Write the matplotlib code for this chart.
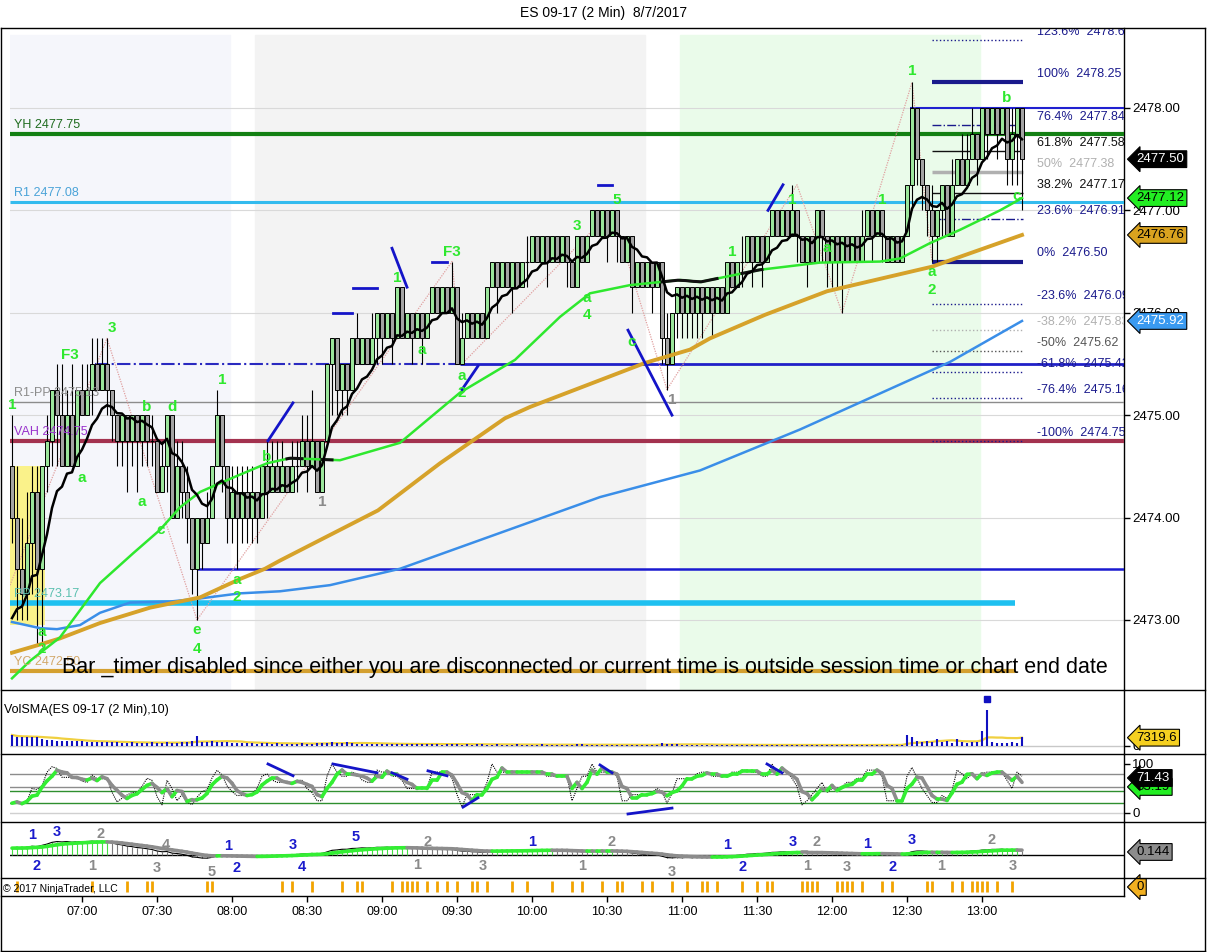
import numpy as np
import pandas as pd
import matplotlib
matplotlib.use("Agg")
import matplotlib.pyplot as plt
import matplotlib.transforms as mtransforms
from matplotlib.collections import LineCollection
from matplotlib.patches import Rectangle

plt.rcParams['font.family'] = ['Liberation Sans', 'DejaVu Sans']

W, H = 1208, 952

# ES 09-17, 2 min bars from 06:32 to 13:16
first_open = 2474.50
closes = [
    2474.00, 2473.50, 2473.25, 2473.75, 2474.25, 2473.50, 2474.50, 2474.75, 2475.25, 2475.00,
    2474.50, 2475.00, 2474.50, 2475.25, 2475.00, 2475.25, 2475.50, 2475.25, 2475.50, 2475.25,
    2475.00, 2474.75, 2475.00, 2474.75, 2475.00, 2474.75, 2475.00, 2474.75, 2474.75, 2474.25,
    2474.50, 2475.00, 2474.00, 2474.50, 2474.25, 2474.00, 2473.50, 2474.00, 2473.75, 2474.00,
    2474.50, 2475.00, 2474.50, 2474.00, 2474.25, 2474.00, 2474.25, 2474.00, 2474.25, 2474.00,
    2474.50, 2474.25, 2474.50, 2474.25, 2474.50, 2474.25, 2474.50, 2474.50, 2474.75, 2474.50,
    2474.75, 2474.25, 2474.75, 2475.50, 2475.75, 2475.25, 2475.50, 2475.25, 2475.75, 2475.50,
    2475.75, 2475.50, 2475.75, 2476.00, 2475.75, 2476.00, 2475.75, 2476.25, 2475.75, 2476.00,
    2475.75, 2476.00, 2475.75, 2476.00, 2476.25, 2476.00, 2476.25, 2476.00, 2476.25, 2475.50,
    2475.75, 2476.00, 2475.75, 2476.00, 2475.75, 2476.25, 2476.50, 2476.25, 2476.50, 2476.25,
    2476.50, 2476.25, 2476.50, 2476.50, 2476.75, 2476.50, 2476.75, 2476.50, 2476.75, 2476.50,
    2476.75, 2476.50, 2476.25, 2476.75, 2476.50, 2476.75, 2477.00, 2476.75, 2477.00, 2476.75,
    2477.00, 2476.75, 2476.50, 2476.75, 2476.25, 2476.50, 2476.25, 2476.50, 2476.25, 2476.50,
    2475.75, 2475.50, 2476.00, 2476.25, 2476.00, 2476.25, 2476.00, 2476.25, 2476.00, 2476.25,
    2476.00, 2476.25, 2476.00, 2476.50, 2476.25, 2476.50, 2476.50, 2476.75, 2476.50, 2476.75,
    2476.50, 2476.75, 2477.00, 2476.75, 2477.00, 2476.75, 2477.00, 2476.75, 2476.50, 2476.75,
    2476.50, 2477.00, 2476.75, 2476.50, 2476.75, 2476.50, 2476.75, 2476.50, 2476.75, 2476.50,
    2476.75, 2477.00, 2476.75, 2477.00, 2476.75, 2476.50, 2476.75, 2476.50, 2476.75, 2477.25,
    2478.00, 2477.50, 2477.25, 2477.00, 2476.75, 2477.00, 2477.25, 2476.75, 2477.25, 2477.50,
    2477.25, 2477.50, 2477.75, 2477.50, 2478.00, 2477.75, 2478.00, 2477.75, 2478.00, 2477.50,
    2477.75, 2478.00, 2477.50]
highs = [
    2475.00, 2474.50, 2474.00, 2474.25, 2474.50, 2474.50, 2474.50, 2475.00, 2475.25, 2475.50,
    2475.50, 2475.25, 2475.50, 2475.25, 2475.50, 2475.50, 2475.75, 2475.75, 2475.75, 2475.75,
    2475.25, 2475.00, 2475.00, 2475.00, 2475.00, 2475.00, 2475.00, 2475.00, 2475.00, 2474.75,
    2474.75, 2475.00, 2475.00, 2474.75, 2474.75, 2474.50, 2474.00, 2474.00, 2474.00, 2474.25,
    2474.50, 2475.25, 2475.00, 2474.50, 2474.50, 2474.50, 2474.50, 2474.50, 2474.50, 2474.25,
    2474.50, 2474.75, 2474.75, 2474.75, 2474.75, 2474.50, 2474.75, 2474.75, 2475.00, 2475.00,
    2475.25, 2474.75, 2474.75, 2475.50, 2475.75, 2475.75, 2475.50, 2475.50, 2475.75, 2476.00,
    2475.75, 2475.75, 2476.00, 2476.00, 2476.00, 2476.00, 2476.00, 2476.25, 2476.25, 2476.00,
    2476.00, 2476.00, 2476.00, 2476.00, 2476.25, 2476.25, 2476.25, 2476.25, 2476.50, 2476.25,
    2476.00, 2476.00, 2476.00, 2476.00, 2476.00, 2476.25, 2476.50, 2476.50, 2476.50, 2476.50,
    2476.50, 2476.50, 2476.50, 2476.75, 2476.75, 2476.75, 2476.75, 2476.75, 2476.75, 2476.75,
    2476.75, 2476.75, 2476.50, 2476.75, 2476.75, 2476.75, 2477.00, 2477.00, 2477.00, 2477.00,
    2477.00, 2477.00, 2476.75, 2476.75, 2476.75, 2476.50, 2476.50, 2476.50, 2476.50, 2476.50,
    2476.50, 2476.00, 2476.00, 2476.25, 2476.25, 2476.25, 2476.25, 2476.25, 2476.25, 2476.25,
    2476.25, 2476.25, 2476.25, 2476.50, 2476.50, 2476.50, 2476.75, 2476.75, 2476.75, 2476.75,
    2476.75, 2476.75, 2477.00, 2477.00, 2477.00, 2477.00, 2477.25, 2477.00, 2476.75, 2476.75,
    2476.75, 2477.00, 2477.00, 2476.75, 2476.75, 2476.75, 2476.75, 2476.75, 2476.75, 2476.75,
    2477.00, 2477.00, 2477.00, 2477.00, 2477.00, 2476.75, 2476.75, 2476.75, 2476.75, 2477.25,
    2478.25, 2478.00, 2477.50, 2477.25, 2477.25, 2477.00, 2477.25, 2477.25, 2477.50, 2477.50,
    2477.75, 2477.75, 2478.00, 2477.75, 2478.00, 2478.00, 2478.00, 2478.00, 2478.00, 2478.00,
    2478.00, 2478.00, 2478.00]
lows = [
    2473.75, 2473.00, 2473.00, 2473.00, 2473.25, 2472.75, 2472.75, 2474.25, 2474.50, 2474.50,
    2474.50, 2474.50, 2474.50, 2474.50, 2475.00, 2475.00, 2475.00, 2475.25, 2475.25, 2475.00,
    2474.75, 2474.50, 2474.50, 2474.25, 2474.50, 2474.25, 2474.50, 2474.50, 2474.50, 2474.25,
    2474.25, 2474.25, 2474.00, 2474.00, 2474.00, 2473.75, 2473.25, 2473.00, 2473.50, 2473.75,
    2474.00, 2474.50, 2474.25, 2473.75, 2473.75, 2473.50, 2473.75, 2473.75, 2473.75, 2473.75,
    2474.00, 2474.00, 2474.25, 2474.25, 2474.25, 2474.25, 2474.25, 2474.25, 2474.50, 2474.25,
    2474.50, 2474.25, 2474.25, 2474.75, 2475.00, 2475.00, 2475.00, 2475.00, 2475.25, 2475.50,
    2475.50, 2475.50, 2475.50, 2475.50, 2475.50, 2475.75, 2475.50, 2475.75, 2475.75, 2475.75,
    2475.50, 2475.75, 2475.50, 2475.75, 2476.00, 2476.00, 2476.00, 2476.00, 2476.00, 2475.50,
    2475.50, 2475.75, 2475.75, 2475.75, 2475.75, 2475.75, 2476.25, 2476.00, 2476.25, 2476.25,
    2476.00, 2476.25, 2476.25, 2476.25, 2476.50, 2476.50, 2476.50, 2476.25, 2476.50, 2476.50,
    2476.50, 2476.25, 2476.25, 2476.25, 2476.50, 2476.50, 2476.75, 2476.75, 2476.75, 2476.50,
    2476.75, 2476.50, 2476.50, 2476.50, 2476.00, 2476.25, 2476.25, 2476.25, 2476.00, 2476.25,
    2475.50, 2475.25, 2475.50, 2475.75, 2475.75, 2475.75, 2475.75, 2475.75, 2475.75, 2476.00,
    2475.75, 2476.00, 2476.00, 2476.00, 2476.25, 2476.25, 2476.25, 2476.50, 2476.25, 2476.50,
    2476.25, 2476.50, 2476.75, 2476.75, 2476.75, 2476.75, 2476.75, 2476.50, 2476.50, 2476.25,
    2476.50, 2476.50, 2476.50, 2476.25, 2476.25, 2476.25, 2476.00, 2476.50, 2476.50, 2476.50,
    2476.50, 2476.75, 2476.50, 2476.75, 2476.50, 2476.50, 2476.50, 2476.50, 2476.50, 2476.75,
    2477.00, 2477.25, 2477.00, 2476.75, 2476.50, 2476.50, 2476.75, 2476.75, 2476.75, 2477.25,
    2477.25, 2477.25, 2477.50, 2477.25, 2477.50, 2477.50, 2477.75, 2477.50, 2477.75, 2477.25,
    2477.25, 2477.25, 2477.00]
volume = [
    9700, 8000, 7800, 8200, 7500, 7800, 6500, 5500, 5000, 4800,
    4500, 4800, 4200, 4000, 4500, 3600, 3900, 3400, 3600, 3200,
    3100, 3400, 3000, 2900, 3200, 2700, 3000, 2800, 3100, 2700,
    2900, 3200, 2800, 3000, 3300, 3600, 4200, 9000, 3800, 3300,
    4600, 3800, 3400, 3100, 2700, 2900, 2500, 2700, 2300, 2200,
    2500, 2300, 2100, 2400, 2000, 2200, 1800, 2000, 2300, 1900,
    2100, 2400, 2600, 3000, 3300, 2800, 2600, 3100, 2400, 2200,
    2000, 1800, 2200, 1900, 1600, 1800, 2100, 1700, 1500, 1800,
    1600, 1900, 1400, 1700, 2000, 1500, 1300, 1600, 1800, 1400,
    1300, 1500, 1200, 1700, 1400, 1100, 1300, 1600, 1200, 1000,
    1200, 1400, 1100, 1300, 900, 1100, 1500, 1000, 1200, 800,
    1100, 1300, 1000, 1400, 1600, 1100, 900, 1200, 1000, 800,
    1000, 1200, 900, 1100, 1300, 1000, 800, 1100, 900, 1200,
    2300, 2000, 1600, 1400, 1200, 1300, 1100, 1000, 1200, 900,
    1100, 1000, 1300, 900, 800, 1000, 1100, 800, 900, 1000,
    800, 1000, 1200, 900, 700, 800, 1000, 800, 900, 700,
    800, 1000, 800, 900, 700, 800, 900, 800, 1000, 800,
    900, 1100, 800, 1000, 1200, 900, 1100, 1000, 800, 10000,
    7500, 4500, 3800, 4000, 3500, 6500, 3200, 4200, 3000, 6500,
    3600, 3000, 3800, 3200, 13000, 32000, 3500, 2500, 3000, 2800,
    3200, 2400, 7596]

# moving averages (bar index -> price)
green_idx = [0, 3.6, 9.6, 17.6, 24.2, 29.6, 33.6, 37.6, 44.2, 51, 55.6, 65.6, 77.6, 89.6,
             100.6, 109.6, 115.6, 123.6, 133.6, 137.6, 149.6, 161.6, 173.6, 177.6, 183.6,
             189.6, 197.6, 202]
green_val = [2472.43, 2472.60, 2472.83, 2473.36, 2473.65, 2473.88, 2474.10, 2474.25, 2474.39,
             2474.53, 2474.58, 2474.56, 2474.73, 2475.22, 2475.54, 2475.96, 2476.19, 2476.27,
             2476.32, 2476.30, 2476.42, 2476.49, 2476.50, 2476.53, 2476.68, 2476.81, 2477.00,
             2477.12]
orange_idx = [0, 5.6, 9.6, 17.6, 27.6, 37.6, 45.6, 50.6, 53.6, 63.6, 73.2, 85.6, 98.6, 103.6,
              126.6, 135.6, 139.6, 150.6, 163, 184, 202]
orange_val = [2472.68, 2472.76, 2472.82, 2472.97, 2473.12, 2473.22, 2473.40, 2473.50, 2473.58,
              2473.83, 2474.07, 2474.53, 2474.97, 2475.08, 2475.51, 2475.64, 2475.75, 2475.98,
              2476.21, 2476.45, 2476.76]
blue_idx = [0, 5.6, 9, 13.6, 17.6, 23.6, 31.6, 37.6, 45.6, 53.6, 63.6, 77.6, 97.6, 117.6,
            137.6, 157.6, 177.6, 187.6, 202]
blue_val = [2472.98, 2472.92, 2472.91, 2472.95, 2473.07, 2473.17, 2473.18, 2473.21, 2473.26,
            2473.28, 2473.34, 2473.50, 2473.85, 2474.20, 2474.46, 2474.86, 2475.30, 2475.52,
            2475.92]
green_black_spans = [(55, 58), (62, 64), (130, 141), (146, 150)]
fast_seed = 2472.80
macd_seeds = (2472.80, 2472.55)

# key levels
levels = [("YH 2477.75", 2477.75, '#138013', '#1e6b1e', 3.0, 222.4),
          ("R1 2477.08", 2477.08, '#33bbee', '#4aa3d8', 2.2, 222.4),
          ("R1-PP 2475.13", 2475.13, '#8c8c8c', '#8c8c8c', 1.0, 222.4),
          ("VAH 2474.75", 2474.75, '#a3324f', '#9932cc', 3.0, 222.4),
          ("PP 2473.17", 2473.17, '#1ec0f0', '#5cc0b0', 4.0, 200.6),
          ("YC 2472.50", 2472.50, '#d4a030', '#d2a86a', 3.0, 200.6)]

fib_low, fib_high = 2476.50, 2478.25
fib_pct = [123.6, 100, 76.4, 61.8, 50, 38.2, 23.6, 0, -23.6, -38.2, -50, -61.8, -76.4, -100]
fib_color = ['#1a1a8c', '#1a1a8c', '#1a1a8c', '#111111', '#b0b0b0', '#111111', '#1a1a8c',
             '#1a1a8c', '#1a1a8c', '#b0b0b0', '#555555', '#1a1a8c', '#1a1a8c', '#1a1a8c']
fib_style = [':', '-', '-.', '-', '-', '-', '-.', '-', ':', ':', ':', ':', ':', ':']
fib_width = [1.0, 3.0, 1.0, 1.0, 2.5, 1.0, 1.0, 3.0, 1.0, 1.0, 1.0, 1.0, 1.0, 1.0]

wave_labels = [(0, 2475.10, '1'), (11.6, 2475.59, 'F3'), (20, 2475.85, '3'), (14, 2474.39, 'a'),
               (27, 2475.08, 'b'), (32, 2475.08, 'd'), (26, 2474.15, 'a'), (29.8, 2473.88, 'c'),
               (42, 2475.34, '1'), (37, 2472.90, 'e'), (37, 2472.72, '4'), (45, 2473.39, 'a'),
               (45, 2473.22, '2'), (51, 2474.59, 'b'), (6, 2472.88, 'a'), (6, 2472.72, '2'),
               (77, 2476.34, '1'), (88, 2476.59, 'F3'), (82, 2475.64, 'a'), (90, 2475.38, 'a'),
               (90, 2475.22, '2'), (113, 2476.85, '3'), (121, 2477.10, '5'), (115, 2476.14, 'a'),
               (115, 2475.98, '4'), (124, 2475.71, 'c'), (144, 2476.59, '1'), (156, 2477.10, '1'),
               (163, 2476.63, 'a'), (174, 2477.10, '1'), (180, 2478.36, '1'), (199, 2478.10, 'b'),
               (201, 2477.14, 'c'), (184, 2476.40, 'a'), (184, 2476.22, '2')]
gray_labels = [(62, 2474.15, '1'), (132, 2475.15, '1')]

blue_marks = [(51.2, 2474.75, 56.2, 2475.12), (76, 2476.63, 79, 2476.25),
              (64.2, 2476.00, 68, 2476.00), (68.2, 2476.24, 73, 2476.24),
              (84, 2476.50, 87, 2476.50), (117.2, 2477.25, 120, 2477.25),
              (90, 2475.25, 93.2, 2475.48), (123.2, 2475.83, 132, 2475.00),
              (151.2, 2477.00, 154.2, 2477.25)]
zz_idx = [-0.4, 19, 37, 88, 90, 120, 131, 157, 166, 180, 184]
zz_val = [2473.34, 2475.75, 2473.00, 2476.50, 2475.50, 2477.00, 2475.25, 2477.25, 2476.00,
          2478.25, 2476.50]

stoch_div = [(51.2, 100, 56.2, 76), (64.2, 100, 73, 82), (76, 82, 79, 69), (83.2, 86, 87, 76),
             (90.2, 12, 93.2, 31), (117.6, 98, 120, 82), (123.2, -2, 132, 10), (151, 100, 154, 82)]

macd_labels = [(4.1, 0.95, '1', 'b'), (9, 1.10, '3', 'b'), (17.8, 1.0, '2', 'g'),
               (5, -0.52, '2', 'b'), (16, -0.52, '1', 'g'), (29, -0.62, '3', 'g'),
               (30.8, 0.48, '4', 'g'), (40, -0.81, '5', 'g'), (43.2, 0.43, '1', 'b'),
               (45, -0.62, '2', 'b'), (56.2, 0.48, '3', 'b'), (58, -0.57, '4', 'b'),
               (68.8, 0.86, '5', 'b'), (83.2, 0.62, '2', 'g'), (81, -0.48, '1', 'g'),
               (94.2, -0.52, '3', 'g'), (104, 0.62, '1', 'b'), (114, -0.52, '1', 'g'),
               (120, 0.62, '2', 'g'), (132, -0.81, '3', 'g'), (143, 0.48, '1', 'b'),
               (146.2, -0.57, '2', 'b'), (156.2, 0.62, '3', 'b'), (161, 0.62, '2', 'g'),
               (159, -0.52, '1', 'g'), (167, -0.57, '3', 'g'), (171, 0.52, '1', 'b'),
               (176.2, -0.57, '2', 'b'), (180, 0.71, '3', 'b'), (196, 0.71, '2', 'g'),
               (185.8, -0.52, '1', 'g'), (200.2, -0.52, '3', 'g')]

orange_marks = [1, 16, 23, 27, 28, 39, 40, 54, 56, 60, 66, 69, 70, 76, 78, 79, 80, 81, 83, 85,
                87, 89, 92, 93, 95, 100, 103, 108, 112, 114, 118, 121, 122, 126, 128, 132, 135,
                138, 139, 141, 146, 149, 151, 152, 158, 159, 160, 161, 165, 166, 167, 168, 170,
                174, 176, 183, 184, 188, 190, 192, 193, 194, 195, 197, 200]

time_labels = ['07:00', '07:30', '08:00', '08:30', '09:00', '09:30', '10:00', '10:30',
               '11:00', '11:30', '12:00', '12:30', '13:00']
time_idx = [14, 29, 44, 59, 74, 89, 104, 119, 134, 149, 164, 179, 194]

price_tags = [(2477.50, '2477.50', '#000000', 'white'), (2477.12, '2477.12', '#22ee22', 'black'),
              (2476.76, '2476.76', '#d9a21f', 'black'), (2475.92, '2475.92', '#3a9af0', 'white')]
stoch_tags = [(53.19, '53.19', '#22ee22', 'black'), (71.43, '71.43', '#000000', 'white')]
macd_tag = 0.144

n = len(closes)
assert len(highs) == n and len(lows) == n and len(volume) == n
idx = np.arange(n)
c = np.array(closes)
o = np.array([first_open] + closes[:-1])
hi = np.maximum(np.array(highs), np.maximum(o, c))
lo = np.minimum(np.array(lows), np.minimum(o, c))
vol = np.array(volume, dtype=float)


def ema(vals, span, seed):
    a = 2.0 / (span + 1)
    out, e = [], seed
    for v in vals:
        e = e + a * (v - e)
        out.append(e)
    return np.array(out)


def slope_lines(axis, x, y, up_col, dn_col, lw, z):
    pts = np.column_stack([x, y])
    segs = np.stack([pts[:-1], pts[1:]], axis=1)
    cols = [up_col if y[i + 1] >= y[i] else dn_col for i in range(len(y) - 1)]
    axis.add_collection(LineCollection(segs, colors=cols, linewidths=lw, zorder=z,
                                       capstyle='round', joinstyle='round'))


fig = plt.figure(figsize=(W / 100, H / 100), dpi=100)


def box(x0, y0, x1, y1):
    return [x0 / W, 1 - y1 / H, (x1 - x0) / W, (y1 - y0) / H]


def fline(x0, y0, x1, y1, lw=1.0):
    fig.add_artist(plt.Line2D([x0 / W, x1 / W], [1 - y0 / H, 1 - y1 / H], color='black',
                              lw=lw, transform=fig.transFigure))


ax = fig.add_axes(box(10, 28, 1124, 690))
ax_vol = fig.add_axes(box(10, 690, 1124, 754))
ax_st = fig.add_axes(box(10, 754, 1124, 822))
ax_md = fig.add_axes(box(10, 822, 1124, 878))
ax_or = fig.add_axes(box(10, 878, 1124, 896))

for a in (ax, ax_vol, ax_st, ax_md, ax_or):
    a.set_xlim(-0.4, 222.4)
    a.set_facecolor('none')
    for s in ('left', 'top', 'bottom'):
        a.spines[s].set_visible(False)
    a.spines['right'].set_linewidth(1.0)
    a.yaxis.tick_right()
    a.tick_params(axis='y', length=4, width=1, labelsize=9.5, pad=2)
    a.tick_params(axis='x', bottom=False, labelbottom=False)


def tag(axis, value, text, fc, tc, size=9.5):
    axis.annotate(text, xy=(1, value), xycoords=axis.get_yaxis_transform(),
                  xytext=(9, 0), textcoords='offset points', ha='left', va='center',
                  fontsize=size, color=tc, annotation_clip=False, zorder=20,
                  bbox=dict(boxstyle='larrow,pad=0.18', fc=fc, ec='black', lw=0.8))


# ---- price panel ----
ax.set_ylim(2472.316, 2478.781)
top_frac = (690 - 35) / 662
ax.axvspan(-0.4, 43.6, ymax=top_frac, color='#f5f6fb', zorder=0)
ax.axvspan(48.6, 126.6, ymax=top_frac, color='#f3f3f3', zorder=0)
ax.axvspan(133.6, 193.6, ymax=top_frac, color='#eafbea', zorder=0)
for p in range(2473, 2479):
    ax.axhline(p, color='#d9d9d9', lw=0.8, zorder=0.5)
ax.add_patch(Rectangle((-0.4, 2472.95), 7.0, 1.55, fc='#faf28a', ec='none', zorder=1))

for text, val, lc, tc, lw, x1 in levels:
    ax.hlines(val, -0.4, x1, color=lc, lw=lw, zorder=3)
    ax.annotate(text, xy=(0.4, val), xytext=(0, 2), textcoords='offset points',
                fontsize=9, color=tc, va='bottom', ha='left', zorder=6)
ax.hlines(2475.50, 16.6, 89.6, color='#2a2ac0', lw=1.5, linestyles='-.', zorder=3)
ax.hlines(2475.50, 89.6, 222.4, color='#2020c8', lw=2.0, zorder=3)
ax.hlines(2473.50, 37, 222.4, color='#1a1ad0', lw=1.8, zorder=3)
ax.hlines(2478.00, 179.6, 222.4, color='#2020d0', lw=1.5, zorder=3)

for pct, col, ls, lw in zip(fib_pct, fib_color, fib_style, fib_width):
    lv = fib_low + (fib_high - fib_low) * pct / 100.0
    ax.hlines(lv, 184, 202.2, color=col, lw=lw, linestyles=ls, zorder=3)
    ax.annotate('%g%%  %.2f' % (pct, lv), xy=(205, lv), xytext=(0, 1.5),
                textcoords='offset points', fontsize=9, color=col, va='bottom', ha='left',
                annotation_clip=False, clip_on=True, zorder=6)

ax.plot(zz_idx, zz_val, color='#e0a0a0', lw=0.9, ls=(0, (1, 1)), zorder=3.5)

# candles
up = c > o
dn = c < o
eq = c == o
ax.vlines(idx, lo, hi, color='black', lw=0.8, zorder=4)
ax.bar(idx[up], (c - o)[up], bottom=o[up], width=0.72, color='#9be59b', edgecolor='black',
       linewidth=0.7, zorder=4.5)
ax.bar(idx[dn], (o - c)[dn], bottom=c[dn], width=0.72, color='#a3a3a3', edgecolor='black',
       linewidth=0.7, zorder=4.5)
ax.hlines(c[eq], idx[eq] - 0.36, idx[eq] + 0.36, color='black', lw=0.8, zorder=4.5)

# averages
fast = ema(c, 10, fast_seed)
ax.plot(idx, fast, color='black', lw=1.8, zorder=5.5)
ax.plot(blue_idx, blue_val, color='#3a8ee8', lw=1.8, zorder=5)
ax.plot(orange_idx, orange_val, color='#d6a22a', lw=2.8, zorder=5)
ax.plot(green_idx, green_val, color='#2ee82e', lw=1.8, zorder=5.2)
for s0, s1 in green_black_spans:
    xs = np.linspace(s0, s1, 8)
    ax.plot(xs, np.interp(xs, green_idx, green_val), color='#111111', lw=2.2, zorder=5.3)

for x0, y0, x1, y1 in blue_marks:
    ax.plot([x0, x1], [y0, y1], color='#1414c8', lw=2.0, zorder=6)

for x, y, t in wave_labels:
    ax.text(x, y, t, color='#2ee82e', fontsize=11, fontweight='bold', ha='center',
            va='center', zorder=7)
for x, y, t in gray_labels:
    ax.text(x, y, t, color='#8a8a8a', fontsize=11, fontweight='bold', ha='center',
            va='center', zorder=7)

ax.set_yticks(range(2473, 2479))
ax.set_yticklabels(['%.2f' % p for p in range(2473, 2479)])
for val, text, fc, tc in price_tags:
    tag(ax, val, text, fc, tc)

fig.text(62 / W, 1 - 667 / H,
         'Bar _timer disabled since either you are disconnected or current time is outside '
         'session time or chart end date', fontsize=15.5, ha='left', va='center', color='black',
         zorder=10)

# ---- volume panel ----
vsma = pd.Series(vol).rolling(10, min_periods=1).mean().values
ax_vol.set_ylim(-7040, 49280)
ax_vol.axhline(0, color='#c8c8c8', lw=1, zorder=1)
ax_vol.vlines(idx, 0, vol, color='#1010c0', lw=1.5, zorder=3)
ax_vol.plot(idx, vsma, color='#f0d040', lw=1.6, zorder=2)
spike = int(np.argmax(vol))
ax_vol.plot([spike], [vol[spike]], 's', color='#1010c0', ms=4,
            transform=mtransforms.offset_copy(ax_vol.transData, fig, x=0, y=11, units='dots'))
ax_vol.set_yticks([0])
ax_vol.set_yticklabels(['0'])
tag(ax_vol, vsma[-1], '%.1f' % vsma[-1], '#f5d020', 'black')
fig.text(4 / W, 1 - 710 / H, 'VolSMA(ES 09-17 (2 Min),10)', fontsize=9, ha='left',
         va='center')

# ---- stochastics panel ----
hh = pd.Series(hi).rolling(7, min_periods=1).max()
ll = pd.Series(lo).rolling(7, min_periods=1).min()
rng = (hh - ll).replace(0, np.nan)
raw = (100 * (pd.Series(c) - ll) / rng).fillna(50)
k_line = raw.rolling(2, min_periods=1).mean().values
d_line = raw.rolling(4, min_periods=1).mean().values
ax_st.set_ylim(-18.4, 120.4)
for lvl, col in [(80, '#8c8c8c'), (53, '#8c8c8c'), (45, '#2f8f2f'), (20, '#2f8f2f'),
                 (0, '#d0d0d0')]:
    ax_st.axhline(lvl, color=col, lw=1, zorder=1)
ax_st.plot(idx, k_line, color='black', lw=0.8, ls=(0, (1, 1)), zorder=3)
slope_lines(ax_st, idx, d_line, '#33ee33', '#8c8c8c', 2.6, 4)
for x0, y0, x1, y1 in stoch_div:
    ax_st.plot([x0, x1], [y0, y1], color='#1414c8', lw=2.0, zorder=5)
ax_st.set_yticks([0, 100])
ax_st.set_yticklabels(['0', '100'])
for val, text, fc, tc in stoch_tags:
    tag(ax_st, val, text, fc, tc)

# ---- MACD panel ----
e12 = ema(c, 12, macd_seeds[0])
e26 = ema(c, 26, macd_seeds[1])
macd = e12 - e26
sig = ema(macd, 9, macd[0])
k_md = 21.0
ax_md.set_ylim(-23 / k_md, 33 / k_md)
ax_md.axhline(0, color='black', lw=1, zorder=1)
hist_cols = ['#44dd44' if m >= s else '#7a7a7a' for m, s in zip(macd, sig)]
ax_md.vlines(idx, 0, macd, colors=hist_cols, lw=0.8, zorder=2)
ax_md.plot(idx, macd, color='black', lw=0.8, zorder=3)
slope_lines(ax_md, idx, sig, '#33ee33', '#8c8c8c', 2.6, 4)
for x, y, t, col in macd_labels:
    ax_md.text(x, y, t, color='#1a1acc' if col == 'b' else '#8a8a8a', fontsize=10.5,
               fontweight='bold', ha='center', va='center', clip_on=True, zorder=6)
ax_md.set_yticks([])
tag(ax_md, macd_tag, '%.3f' % macd_tag, '#8c8c8c', 'black')

# ---- bottom marker panel ----
ax_or.set_ylim(0, 1)
ax_or.vlines(orange_marks, 0.2, 0.85, color='#f2a300', lw=2.0)
ax_or.set_yticks([])
tag(ax_or, 0.5, '0', '#f2b020', 'black')
ax_or.set_xticks(time_idx)
ax_or.set_xticklabels(time_labels)
ax_or.tick_params(axis='x', bottom=True, labelbottom=True, length=4, width=1, labelsize=9,
                  pad=3)
fig.text(3 / W, 1 - 889 / H, '\u00a9 2017 NinjaTrader, LLC', fontsize=7.5, ha='left',
         va='center')

# frame and separators
fline(1, 28, 1205, 28)
fline(1, 28, 1, 951)
fline(1205, 28, 1205, 951)
fline(1, 951, 1205, 951)
for yy in (690, 754, 822, 878):
    fline(1, yy, 1205, yy)
fline(1, 896, 1124, 896)

fig.text(604 / W, 1 - 13 / H, 'ES 09-17 (2 Min)  8/7/2017', fontsize=10, ha='center',
         va='center')

fig.savefig('out.png', dpi=100)
